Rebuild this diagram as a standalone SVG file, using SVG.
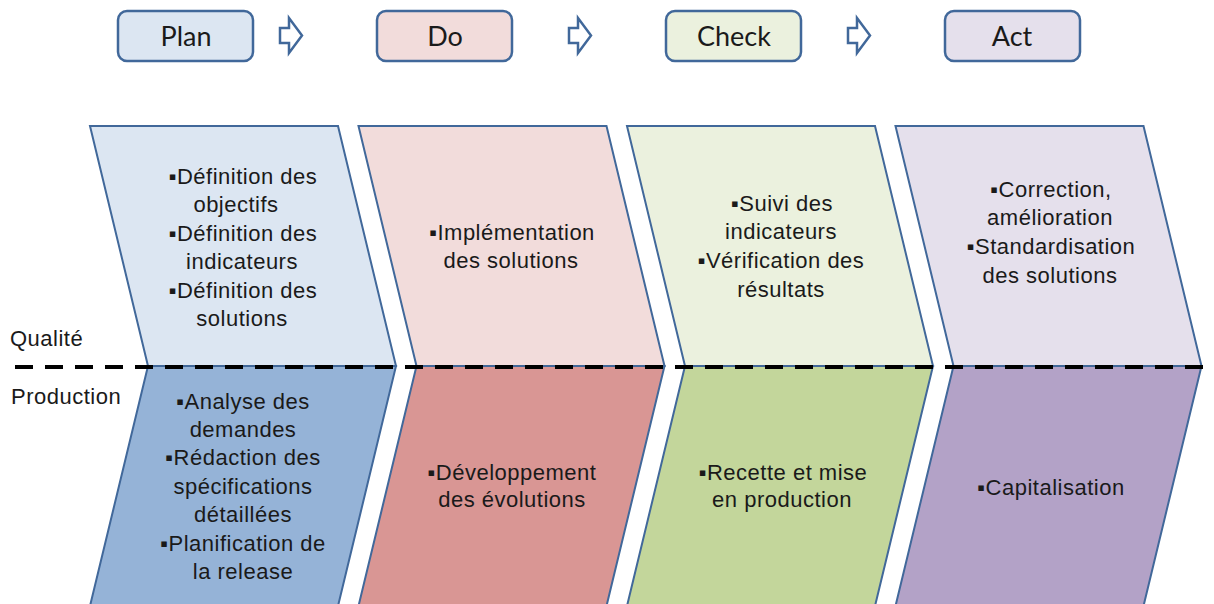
<svg xmlns="http://www.w3.org/2000/svg" width="1214" height="604" viewBox="0 0 1214 604">
<style>
.hdr{stroke:#41689a;stroke-width:2.5}
.ht{font-family:Lato,"Liberation Sans",sans-serif;font-size:27px;fill:#1a1a1a;text-anchor:middle}
.arr{fill:#fff;stroke:#41689a;stroke-width:2.5;stroke-linejoin:miter}
.sh{stroke:#41689a;stroke-width:2}
.t{font-family:"Liberation Sans",Arial,sans-serif;font-size:22px;fill:#1a1a1a;text-anchor:middle;letter-spacing:0.5px}
.lbl{font-family:"Liberation Sans",Arial,sans-serif;font-size:22px;fill:#1a1a1a;letter-spacing:0.5px}
</style>
<rect width="1214" height="604" fill="#fff"/>
<g id="hdr-plan"><rect class="hdr" x="118" y="11" width="135" height="50" rx="9" fill="#dce6f2"/><text class="ht" x="186" y="46">Plan</text></g>
<g id="hdr-do"><rect class="hdr" x="377" y="11" width="135" height="50" rx="9" fill="#f2dcdb"/><text class="ht" x="445" y="46">Do</text></g>
<g id="hdr-check"><rect class="hdr" x="666" y="11" width="135" height="50" rx="9" fill="#ebf1de"/><text class="ht" x="734" y="46">Check</text></g>
<g id="hdr-act"><rect class="hdr" x="945" y="11" width="135" height="50" rx="9" fill="#e5e0ec"/><text class="ht" x="1012" y="46">Act</text></g>
<g id="connectors">
<polygon class="arr" points="280,28 289,28 289,18 302,35.5 289,53 289,43 280,43"/>
<polygon class="arr" points="569,28 578,28 578,18 591,35.5 578,53 578,43 569,43"/>
<polygon class="arr" points="848,28 857,28 857,18 870,35.5 857,53 857,43 848,43"/>
</g>
<g id="plan-q"><polygon class="sh" fill="#dce6f2" points="90,126 338,126 396,366 148,366"/>
<text class="t"><tspan x="243" y="184">▪Définition des</tspan><tspan x="236" y="212">objectifs</tspan><tspan x="243" y="241">▪Définition des</tspan><tspan x="242" y="269">indicateurs</tspan><tspan x="243" y="298">▪Définition des</tspan><tspan x="242" y="326">solutions</tspan></text></g>
<g id="do-q"><polygon class="sh" fill="#f2dcdb" points="358.5,126 606.5,126 664.5,366 416.5,366"/>
<text class="t"><tspan x="512" y="240">▪Implémentation</tspan><tspan x="511" y="268">des solutions</tspan></text></g>
<g id="check-q"><polygon class="sh" fill="#ebf1de" points="627,126 875,126 933,366 685,366"/>
<text class="t"><tspan x="782" y="211">▪Suivi des</tspan><tspan x="781" y="239">indicateurs</tspan><tspan x="781" y="268">▪Vérification des</tspan><tspan x="781" y="297">résultats</tspan></text></g>
<g id="act-q"><polygon class="sh" fill="#e5e0ec" points="895.5,126 1143.5,126 1201.5,366 953.5,366"/>
<text class="t"><tspan x="1051" y="197">▪Correction,</tspan><tspan x="1050" y="225">amélioration</tspan><tspan x="1051" y="254">▪Standardisation</tspan><tspan x="1050" y="283">des solutions</tspan></text></g>
<g id="plan-p"><polygon class="sh" fill="#95b3d7" points="148,366 396,366 338,606 90,606"/>
<text class="t"><tspan x="243" y="409">▪Analyse des</tspan><tspan x="243" y="437">demandes</tspan><tspan x="243" y="465">▪Rédaction des</tspan><tspan x="243" y="494">spécifications</tspan><tspan x="243" y="522">détaillées</tspan><tspan x="243" y="551">▪Planification de</tspan><tspan x="243" y="579">la release</tspan></text></g>
<g id="do-p"><polygon class="sh" fill="#d99694" points="416.5,366 664.5,366 606.5,606 358.5,606"/>
<text class="t"><tspan x="512" y="480">▪Développement</tspan><tspan x="512" y="507">des évolutions</tspan></text></g>
<g id="check-p"><polygon class="sh" fill="#c3d69b" points="685,366 933,366 875,606 627,606"/>
<text class="t"><tspan x="783" y="480">▪Recette et mise</tspan><tspan x="782" y="507">en production</tspan></text></g>
<g id="act-p"><polygon class="sh" fill="#b3a2c7" points="953.5,366 1201.5,366 1143.5,606 895.5,606"/>
<text class="t"><tspan x="1051" y="495">▪Capitalisation</tspan></text></g>
<g id="divider"><line x1="15" y1="367" x2="1214" y2="367" stroke="#000" stroke-width="4" stroke-dasharray="18 12"/></g>
<g id="labels"><text class="lbl" x="10" y="346">Qualité</text><text class="lbl" x="11" y="404">Production</text></g>
</svg>
